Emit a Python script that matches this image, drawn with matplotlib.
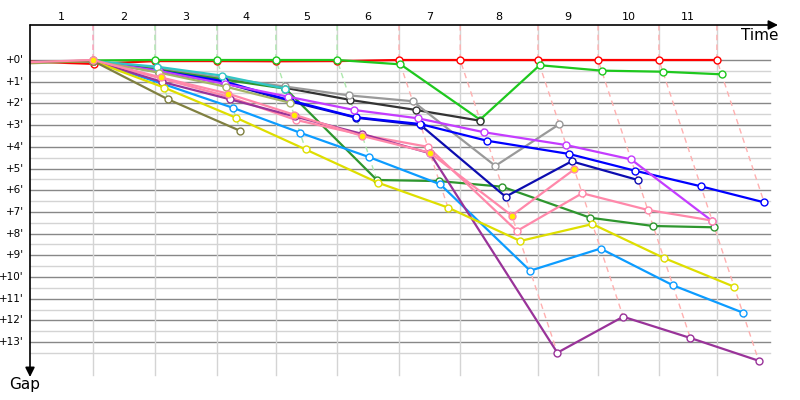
import numpy as np
import matplotlib
matplotlib.use("Agg")
import matplotlib.pyplot as plt

# leader lap times (minutes) -> lap boundaries on the time axis
leader_lap_times = [8.75, 8.6, 8.6, 8.2, 8.5, 8.6, 8.5, 10.8, 8.35, 8.45, 8.05]
leader_colors = ["#ff9db8", "#aee8ae", "#aee8ae", "#aee8ae", "#aee8ae",
                 "#ffb0b0", "#ffb0b0", "#ffb0b0", "#ffb0b0", "#ffb0b0", "#ffb0b0"]
lap_labels = [str(i) for i in range(1, 12)]

# gap to leader (minutes) at the end of each lap, index 0 = start
gap_red = [0.08, 0.18, 0.05, 0.05, 0.06, 0.05, 0.0, 0.0, 0.0, 0.0, 0.0, 0.0]
gap_green = [0.12, 0.02, 0.0, 0.0, 0.0, 0.0, 0.2, 2.75, 0.24, 0.49, 0.54, 0.66]
gap_black = [0.1, 0.05, 0.4, 0.85, 1.28, 1.84, 2.3, 2.8]
gap_grey = [0.1, 0.05, 0.38, 0.82, 1.22, 1.63, 1.9, 4.88, 2.96]
gap_darkgreen = [0.1, 0.05, 0.45, 0.9, 1.32, 5.53, 5.58, 5.84, 7.27, 7.65, 7.71]
gap_blue = [0.1, 0.05, 0.5, 0.98, 1.85, 2.64, 2.95, 3.72, 4.33, 5.1, 5.82, 6.56]
gap_navy = [0.1, 0.05, 0.55, 1.05, 1.9, 2.66, 3.0, 6.3, 4.67, 5.53]
gap_magenta = [0.1, 0.05, 0.5, 1.1, 1.69, 2.3, 2.69, 3.33, 3.92, 4.58, 7.43]
gap_pink = [0.1, 0.02, 0.85, 1.7, 2.76, 3.45, 4.0, 7.88, 6.14, 6.91, 7.4]
gap_pinkyellow = [0.1, 0.0, 0.8, 1.55, 2.52, 3.5, 4.27, 7.17, 5.04]
gap_purple = [0.1, 0.05, 1.01, 1.81, 2.6, 3.4, 4.3, 13.49, 11.83, 12.81, 13.86]
gap_azure = [0.1, 0.05, 1.1, 2.2, 3.35, 4.48, 5.73, 9.71, 8.69, 10.38, 11.64]
gap_yellow = [0.1, 0.05, 1.27, 2.66, 4.12, 5.65, 6.8, 8.34, 7.56, 9.12, 10.45]
gap_cyan = [0.1, 0.05, 0.31, 0.72, 1.32]
gap_lightolive = [0.15, 0.05, 0.58, 1.23, 1.97]
gap_olive = [0.1, 0.05, 1.81, 3.27]

cars = [
    (gap_red, "#ff0000", "white"),
    (gap_green, "#1ec81e", "white"),
    (gap_black, "#333333", "white"),
    (gap_grey, "#999999", "white"),
    (gap_darkgreen, "#2e962e", "white"),
    (gap_navy, "#0c0cb0", "white"),
    (gap_blue, "#0000ff", "white"),
    (gap_magenta, "#c43cff", "white"),
    (gap_pink, "#ff88aa", "white"),
    (gap_azure, "#0c9cff", "white"),
    (gap_cyan, "#33c6c6", "white"),
    (gap_lightolive, "#a6b468", "white"),
    (gap_purple, "#993399", "white"),
    (gap_yellow, "#dede00", "white"),
    (gap_olive, "#808040", "white"),
    (gap_pinkyellow, "#ff88aa", "#ffee00"),
]

PX_T = 7.2    # pixels per minute on time axis
PX_G = 21.7   # pixels per minute of gap

leader_t = np.concatenate([[0.0], np.cumsum(leader_lap_times)])

fig = plt.figure(figsize=(8, 4), dpi=100)
ax = fig.add_axes([0, 0, 1, 1])
ax.set_axis_off()
ax.set_xlim(-30 / PX_T, 770 / PX_T)
ax.set_ylim(340 / PX_G, -60 / PX_G)

top = -35 / PX_G
bottom = 315 / PX_G
right = 740 / PX_T

# grid
for g in np.arange(0.5, 14, 1.0):
    ax.plot([0, right], [g, g], color="#d4d4d4", lw=1.0, zorder=1)
for g in range(0, 14):
    ax.plot([0, right], [g, g], color="#888888", lw=1.0, zorder=1)
    ax.text(-6 / PX_T, g, "+%d'" % g, ha="right", va="center", fontsize=7.5)
for t in leader_t[1:]:
    ax.plot([t, t], [top, bottom], color="#d4d4d4", lw=1.0, zorder=1)

# lap labels
for i, lab in enumerate(lap_labels):
    ax.text((leader_t[i] + leader_t[i + 1]) / 2, -43 / PX_G, lab,
            ha="center", va="center", fontsize=8)

# lap crossing lines (dashed), from leader down through every car
all_gaps = [c[0] for c in cars]
for k in range(1, len(leader_t)):
    gmax = max(g[k] for g in all_gaps if len(g) > k)
    t0 = leader_t[k]
    ax.plot([t0, t0, t0 + gmax], [top, 0, gmax], color=leader_colors[k - 1],
            lw=1.0, ls=(0, (4, 3)), zorder=2)

# cars
for z, (gaps, col, face) in enumerate(cars):
    n = len(gaps)
    g = np.array(gaps)
    t = leader_t[:n] + g
    ax.plot(t, g, color=col, lw=1.6, zorder=3 + z, solid_joinstyle="round")
    ax.plot(t[1:], g[1:], ls="none", marker="o", ms=5, mfc=face, mec=col,
            mew=1.0, zorder=3 + z)

# axes with arrows
ax.annotate("", xy=(748 / PX_T, top), xytext=(0, top),
            arrowprops=dict(arrowstyle="-|>", color="black", lw=1.2,
                            mutation_scale=14, shrinkA=0, shrinkB=0), zorder=30)
ax.annotate("", xy=(0, 317 / PX_G), xytext=(0, top),
            arrowprops=dict(arrowstyle="-|>", color="black", lw=1.2,
                            mutation_scale=14, shrinkA=0, shrinkB=0), zorder=30)
ax.text(730 / PX_T, -25 / PX_G, "Time", ha="center", va="center", fontsize=11)
ax.text(-5 / PX_T, 325 / PX_G, "Gap", ha="center", va="center", fontsize=11)

fig.savefig("out.png", dpi=100)
